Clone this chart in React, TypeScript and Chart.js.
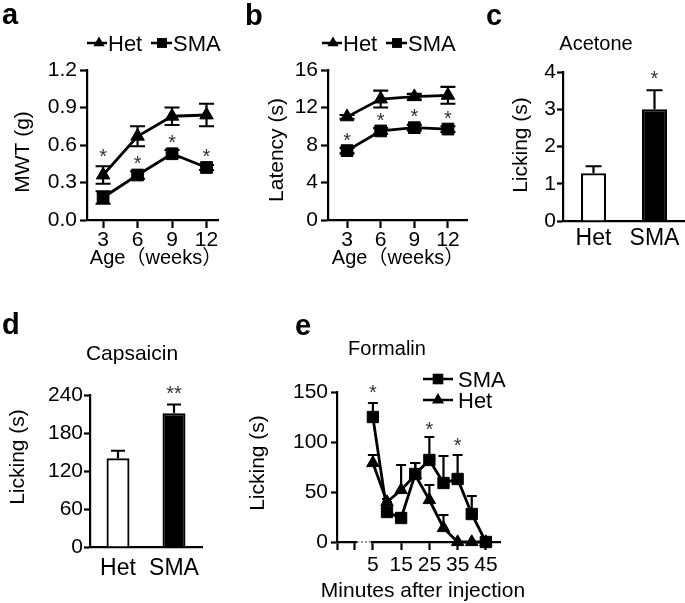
import React, { useEffect, useRef } from 'react';
import { Chart, registerables } from 'chart.js';

Chart.register(...registerables);

const FONT = '"Liberation Sans", Arial, "Noto Sans CJK SC", sans-serif';
const CW = 685;
const CH = 603;
const YW = 50;
const XH = 40;

// ---- panel a: MWT ----
const weeks = [3, 6, 9, 12];
const mwtHet = [0.36, 0.67, 0.83, 0.84];
const mwtHetErr = [0.07, 0.08, 0.07, 0.09];
const mwtSma = [0.18, 0.36, 0.53, 0.42];
const mwtSmaErr = [0.05, 0.03, 0.03, 0.02];
const mwtStarY = [0.55, 0.49, 0.66, 0.55];
const mwtTicks = [0, 0.3, 0.6, 0.9, 1.2];

// ---- panel b: latency ----
const latHet = [11.0, 12.9, 13.15, 13.3];
const latHetErr = [0.2, 0.9, 0.3, 0.9];
const latSma = [7.4, 9.5, 9.85, 9.7];
const latSmaErr = [0.3, 0.3, 0.3, 0.3];
const latStarY = [8.95, 11.1, 11.55, 11.4];
const latTicks = [0, 4, 8, 12, 16];

// ---- panel c: acetone ----
const groups = ['Het', 'SMA'];
const acetone = [1.28, 3.0];
const acetoneErr = [0.19, 0.51];
const acetoneStars = ['', '*'];
const acetoneStarY = [0, 3.95];
const acetoneTicks = [0, 1, 2, 3, 4];

// ---- panel d: capsaicin ----
const capsaicin = [140, 211];
const capsaicinErr = [12, 14];
const capsaicinStars = ['', '**'];
const capsaicinStarY = [0, 250];
const capsaicinTicks = [0, 60, 120, 180, 240];

// ---- panel e: formalin ----
const minutes = [5, 10, 15, 20, 25, 30, 35, 40, 45];
const formSma = [125, 30, 24, 68, 82, 59, 63, 28, 0];
const formSmaErr = [14, 10, 5, 11, 23, 27, 24, 18, 0];
const formHet = [79, 40, 52, 67, 42, 14, 0, 0, 0];
const formHetErr = [8, 3, 25, 12, 15, 13, 0, 0, 0];
const formStarX = [5, 25, 35];
const formStarY = [154, 117, 101];
const formTicks = [0, 50, 100, 150];
const formXLabels = [5, 15, 25, 35, 45];
const formXExtraTicks = [-7.7, -1.35];

type Box = { L: number; T: number; R: number; B: number };

function pad(b: Box) {
  return { left: b.L - YW, top: b.T, right: CW - b.R, bottom: CH - b.B - XH };
}

function yAxis(ticks: number[], fmt: (v: number) => string, tl: number, padding: number) {
  return {
    type: 'linear',
    position: 'left',
    min: ticks[0],
    max: ticks[ticks.length - 1],
    afterFit: (s: any) => { s.width = YW; },
    afterBuildTicks: (s: any) => { s.ticks = ticks.map((v) => ({ value: v })); },
    border: { display: true, color: '#000', width: 2.2 },
    grid: { display: true, drawOnChartArea: false, drawTicks: true, tickLength: tl, tickWidth: 2.2, tickColor: '#000' },
    ticks: { color: '#000', font: { family: FONT, size: 21 }, padding, autoSkip: false, callback: (v: any) => fmt(Number(v)) },
  };
}

function xLinear(min: number, max: number, ticks: number[], labelled: number[], tl: number, padding: number) {
  return {
    type: 'linear',
    position: 'bottom',
    min,
    max,
    afterFit: (s: any) => { s.height = XH; },
    afterBuildTicks: (s: any) => { s.ticks = ticks.map((v) => ({ value: v })); },
    border: { display: true, color: '#000', width: 2.2 },
    grid: { display: true, drawOnChartArea: false, drawTicks: true, tickLength: tl, tickWidth: 2.2, tickColor: '#000' },
    ticks: {
      color: '#000', font: { family: FONT, size: 21 }, padding, autoSkip: false, maxRotation: 0,
      callback: (v: any) => (labelled.includes(Number(v)) ? String(v) : ''),
    },
  };
}

function xCategory(padding: number) {
  return {
    type: 'category',
    position: 'bottom',
    offset: true,
    afterFit: (s: any) => { s.height = XH; },
    border: { display: true, color: '#000', width: 2.2 },
    grid: { display: true, drawOnChartArea: false, drawTicks: false, offset: true },
    ticks: { color: '#000', font: { family: FONT, size: 23 }, padding, autoSkip: false, maxRotation: 0 },
  };
}

type TextItem = { s: string; x: number; y: number; size: number; bold?: boolean; align?: CanvasTextAlign; rot?: boolean };
type ErrItem = { ds: number; vals: number[]; errs: number[]; cap: number; both: boolean };
type StarItem = { s: string; xv: number; yv: number; bar?: boolean; idx?: number };
type LegendItem = { label: string; style: 'rect' | 'triangle'; x1: number; x2: number; mx: number; tx: number; y: number; r: number; size: number };

function drawMarker(ctx: CanvasRenderingContext2D, style: string, x: number, y: number, r: number) {
  ctx.beginPath();
  if (style === 'rect') {
    const s = r * Math.SQRT1_2;
    ctx.rect(x - s, y - s, 2 * s, 2 * s);
  } else {
    ctx.moveTo(x, y - r);
    ctx.lineTo(x + r * 0.866, y + r / 2);
    ctx.lineTo(x - r * 0.866, y + r / 2);
    ctx.closePath();
  }
  ctx.fill();
}

function panelPlugin(texts: TextItem[], errs: ErrItem[], stars: StarItem[], legend: LegendItem[], extra?: (c: any) => void) {
  return {
    id: 'panel',
    beforeDatasetsDraw(chart: any) {
      const ctx = chart.ctx as CanvasRenderingContext2D;
      const ys = chart.scales.y;
      ctx.save();
      ctx.strokeStyle = '#000';
      ctx.lineWidth = 2.2;
      errs.forEach((it) => {
        const meta = chart.getDatasetMeta(it.ds);
        meta.data.forEach((el: any, i: number) => {
          const e = it.errs[i];
          if (!e) return;
          const x = el.x;
          const top = ys.getPixelForValue(it.vals[i] + e);
          const bot = it.both ? ys.getPixelForValue(it.vals[i] - e) : el.y;
          ctx.beginPath();
          ctx.moveTo(x, bot);
          ctx.lineTo(x, top);
          ctx.moveTo(x - it.cap / 2, top);
          ctx.lineTo(x + it.cap / 2, top);
          if (it.both) {
            ctx.moveTo(x - it.cap / 2, bot);
            ctx.lineTo(x + it.cap / 2, bot);
          }
          ctx.stroke();
        });
      });
      ctx.restore();
    },
    afterDraw(chart: any) {
      const ctx = chart.ctx as CanvasRenderingContext2D;
      const xs = chart.scales.x;
      const ys = chart.scales.y;
      ctx.save();
      if (extra) extra(chart);
      // significance stars
      ctx.fillStyle = '#333';
      ctx.textAlign = 'center';
      ctx.textBaseline = 'alphabetic';
      const ss = 20;
      ctx.font = `${ss}px ${FONT}`;
      stars.forEach((st) => {
        if (!st.s) return;
        const x = st.bar ? chart.getDatasetMeta(0).data[st.idx as number].x : xs.getPixelForValue(st.xv);
        const y = ys.getPixelForValue(st.yv);
        ctx.fillText(st.s, x, y + 0.57 * ss);
      });
      // legend
      ctx.fillStyle = '#000';
      ctx.strokeStyle = '#000';
      legend.forEach((lg) => {
        ctx.lineWidth = 2.5;
        ctx.beginPath();
        ctx.moveTo(lg.x1, lg.y);
        ctx.lineTo(lg.x2, lg.y);
        ctx.stroke();
        drawMarker(ctx, lg.style, lg.mx, lg.y, lg.r);
        ctx.font = `${lg.size}px ${FONT}`;
        ctx.textAlign = 'left';
        ctx.textBaseline = 'alphabetic';
        ctx.fillText(lg.label, lg.tx, lg.y + 0.358 * lg.size);
      });
      // texts
      texts.forEach((t) => {
        ctx.font = `${t.bold ? 'bold ' : ''}${t.size}px ${FONT}`;
        ctx.fillStyle = '#000';
        if (t.rot) {
          ctx.save();
          ctx.translate(t.x, t.y);
          ctx.rotate(-Math.PI / 2);
          ctx.textAlign = 'center';
          ctx.textBaseline = 'middle';
          ctx.fillText(t.s, 0, 0);
          ctx.restore();
        } else {
          ctx.textAlign = t.align || 'left';
          ctx.textBaseline = 'alphabetic';
          ctx.fillText(t.s, t.x, t.y);
        }
      });
      ctx.restore();
    },
  };
}

const baseOpts = (box: Box) => ({
  animation: false,
  responsive: false,
  events: [],
  layout: { padding: pad(box) },
  plugins: { legend: { display: false }, title: { display: false }, tooltip: { enabled: false } },
});

function lineDs(label: string, xs: number[], ys: number[], style: string, r: number) {
  return {
    label,
    data: xs.map((x, i) => ({ x, y: ys[i] })),
    pointStyle: style,
    pointRadius: r,
    pointBorderWidth: 1,
    borderColor: '#000',
    backgroundColor: '#000',
    pointBackgroundColor: '#000',
    borderWidth: 2.8,
    tension: 0,
    clip: false,
  };
}

function configA(): any {
  const box = { L: 87, T: 70, R: 218, B: 220 };
  return {
    type: 'line',
    data: { datasets: [lineDs('Het', weeks, mwtHet, 'triangle', 7.8), lineDs('SMA', weeks, mwtSma, 'rect', 8.3)] },
    options: {
      ...baseOpts(box),
      scales: { x: xLinear(1.6, 13, weeks, weeks, 8, 0), y: yAxis(mwtTicks, (v) => v.toFixed(1), 7, 3) },
    },
    plugins: [panelPlugin(
      [
        { s: 'a', x: 2, y: 24, size: 29, bold: true },
        { s: 'MWT (g)', x: 23, y: 152, size: 21, rot: true },
        { s: 'Age（weeks）', x: 156, y: 264, size: 20, align: 'center' },
      ],
      [
        { ds: 0, vals: mwtHet, errs: mwtHetErr, cap: 15, both: true },
        { ds: 1, vals: mwtSma, errs: mwtSmaErr, cap: 15, both: true },
      ],
      weeks.map((w, i) => ({ s: '*', xv: w, yv: mwtStarY[i] })),
      [
        { label: 'Het', style: 'triangle', x1: 87, x2: 107, mx: 99, tx: 108, y: 43, r: 6.5, size: 22 },
        { label: 'SMA', style: 'rect', x1: 151, x2: 172, mx: 162, tx: 173, y: 43, r: 7, size: 22 },
      ],
    )],
  };
}

function configB(): any {
  const box = { L: 328, T: 70, R: 467, B: 220 };
  return {
    type: 'line',
    data: { datasets: [lineDs('Het', weeks, latHet, 'triangle', 7.8), lineDs('SMA', weeks, latSma, 'rect', 8.3)] },
    options: {
      ...baseOpts(box),
      scales: { x: xLinear(1.3, 13.7, weeks, weeks, 8, 0), y: yAxis(latTicks, (v) => String(v), 7, 3) },
    },
    plugins: [panelPlugin(
      [
        { s: 'b', x: 245, y: 25, size: 29, bold: true },
        { s: 'Latency (s)', x: 277, y: 150, size: 21, rot: true },
        { s: 'Age（weeks）', x: 398, y: 264, size: 20, align: 'center' },
      ],
      [
        { ds: 0, vals: latHet, errs: latHetErr, cap: 15, both: true },
        { ds: 1, vals: latSma, errs: latSmaErr, cap: 15, both: true },
      ],
      weeks.map((w, i) => ({ s: '*', xv: w, yv: latStarY[i] })),
      [
        { label: 'Het', style: 'triangle', x1: 322, x2: 342, mx: 333, tx: 343, y: 43, r: 6.5, size: 22 },
        { label: 'SMA', style: 'rect', x1: 386, x2: 407, mx: 397, tx: 408, y: 43, r: 7, size: 22 },
      ],
    )],
  };
}

function barDs(vals: number[]) {
  return {
    data: vals,
    backgroundColor: ['#fff', '#000'],
    borderColor: '#000',
    borderWidth: 2.2,
    borderSkipped: 'bottom',
    categoryPercentage: 1,
    barPercentage: 0.41,
  };
}

function configC(): any {
  const box = { L: 563, T: 72, R: 685, B: 221 };
  return {
    type: 'bar',
    data: { labels: groups, datasets: [barDs(acetone)] },
    options: {
      ...baseOpts(box),
      scales: { x: xCategory(4), y: yAxis(acetoneTicks, (v) => String(v), 6, 1) },
    },
    plugins: [panelPlugin(
      [
        { s: 'c', x: 486, y: 25, size: 29, bold: true },
        { s: 'Acetone', x: 596, y: 50, size: 20, align: 'center' },
        { s: 'Licking (s)', x: 521, y: 145, size: 21, rot: true },
      ],
      [{ ds: 0, vals: acetone, errs: acetoneErr, cap: 16, both: false }],
      groups.map((g, i) => ({ s: acetoneStars[i], xv: i, yv: acetoneStarY[i], bar: true, idx: i })),
      [],
    )],
  };
}

function configD(): any {
  const box = { L: 90, T: 395, R: 202, B: 547 };
  return {
    type: 'bar',
    data: { labels: groups, datasets: [barDs(capsaicin)] },
    options: {
      ...baseOpts(box),
      scales: { x: xCategory(8), y: yAxis(capsaicinTicks, (v) => String(v), 6, 1) },
    },
    plugins: [panelPlugin(
      [
        { s: 'd', x: 2, y: 334, size: 29, bold: true },
        { s: 'Capsaicin', x: 132, y: 360, size: 21, align: 'center' },
        { s: 'Licking (s)', x: 18, y: 457, size: 21, rot: true },
      ],
      [{ ds: 0, vals: capsaicin, errs: capsaicinErr, cap: 14, both: false }],
      groups.map((g, i) => ({ s: capsaicinStars[i], xv: i, yv: capsaicinStarY[i], bar: true, idx: i })),
      [],
    )],
  };
}

function configE(): any {
  const box = { L: 337, T: 392, R: 500, B: 542 };
  const xTicks = [...formXExtraTicks, ...formXLabels];
  const axisBreak = (chart: any) => {
    const ctx = chart.ctx as CanvasRenderingContext2D;
    const xs = chart.scales.x;
    const a = xs.getPixelForValue(formXExtraTicks[1]) + 2;
    const b = xs.getPixelForValue(formXLabels[0]) - 2;
    const y = chart.chartArea.bottom;
    ctx.fillStyle = '#fff';
    ctx.fillRect(a, y - 2, b - a, 4);
    ctx.strokeStyle = '#777';
    ctx.lineWidth = 1.5;
    ctx.setLineDash([2, 2]);
    ctx.beginPath();
    ctx.moveTo(a, y);
    ctx.lineTo(b, y);
    ctx.stroke();
    ctx.setLineDash([]);
  };
  return {
    type: 'line',
    data: { datasets: [lineDs('Het', minutes, formHet, 'triangle', 7.2), lineDs('SMA', minutes, formSma, 'rect', 8)] },
    options: {
      ...baseOpts(box),
      scales: { x: xLinear(-7.7, 50, xTicks, formXLabels, 8, 3), y: yAxis(formTicks, (v) => String(v), 6, 3) },
    },
    plugins: [panelPlugin(
      [
        { s: 'e', x: 295, y: 335, size: 29, bold: true },
        { s: 'Formalin', x: 387, y: 355, size: 20, align: 'center' },
        { s: 'Licking (s)', x: 258, y: 463, size: 21, rot: true },
        { s: 'Minutes after injection', x: 423, y: 597, size: 21, align: 'center' },
      ],
      [
        { ds: 0, vals: formHet, errs: formHetErr, cap: 10, both: false },
        { ds: 1, vals: formSma, errs: formSmaErr, cap: 10, both: false },
      ],
      formStarX.map((x, i) => ({ s: '*', xv: x, yv: formStarY[i] })),
      [
        { label: 'SMA', style: 'rect', x1: 423, x2: 453, mx: 438, tx: 458, y: 379, r: 7.5, size: 22 },
        { label: 'Het', style: 'triangle', x1: 423, x2: 453, mx: 438, tx: 458, y: 400, r: 7, size: 22 },
      ],
      axisBreak,
    )],
  };
}

export default function App() {
  const r1 = useRef<HTMLCanvasElement>(null);
  const r2 = useRef<HTMLCanvasElement>(null);
  const r3 = useRef<HTMLCanvasElement>(null);
  const r4 = useRef<HTMLCanvasElement>(null);
  const r5 = useRef<HTMLCanvasElement>(null);

  useEffect(() => {
    const refs = [r1, r2, r3, r4, r5];
    const cfgs = [configA, configB, configC, configD, configE];
    const charts = refs.map((r, i) => new Chart(r.current as HTMLCanvasElement, cfgs[i]()));
    return () => charts.forEach((c) => c.destroy());
  }, []);

  const cs: React.CSSProperties = { position: 'absolute', left: 0, top: 0 };
  return (
    <div style={{ position: 'absolute', left: 0, top: 0, width: CW, height: CH, background: '#fff', overflow: 'hidden' }}>
      <canvas ref={r1} width={CW} height={CH} style={cs} />
      <canvas ref={r2} width={CW} height={CH} style={cs} />
      <canvas ref={r3} width={CW} height={CH} style={cs} />
      <canvas ref={r4} width={CW} height={CH} style={cs} />
      <canvas ref={r5} width={CW} height={CH} style={cs} />
    </div>
  );
}
